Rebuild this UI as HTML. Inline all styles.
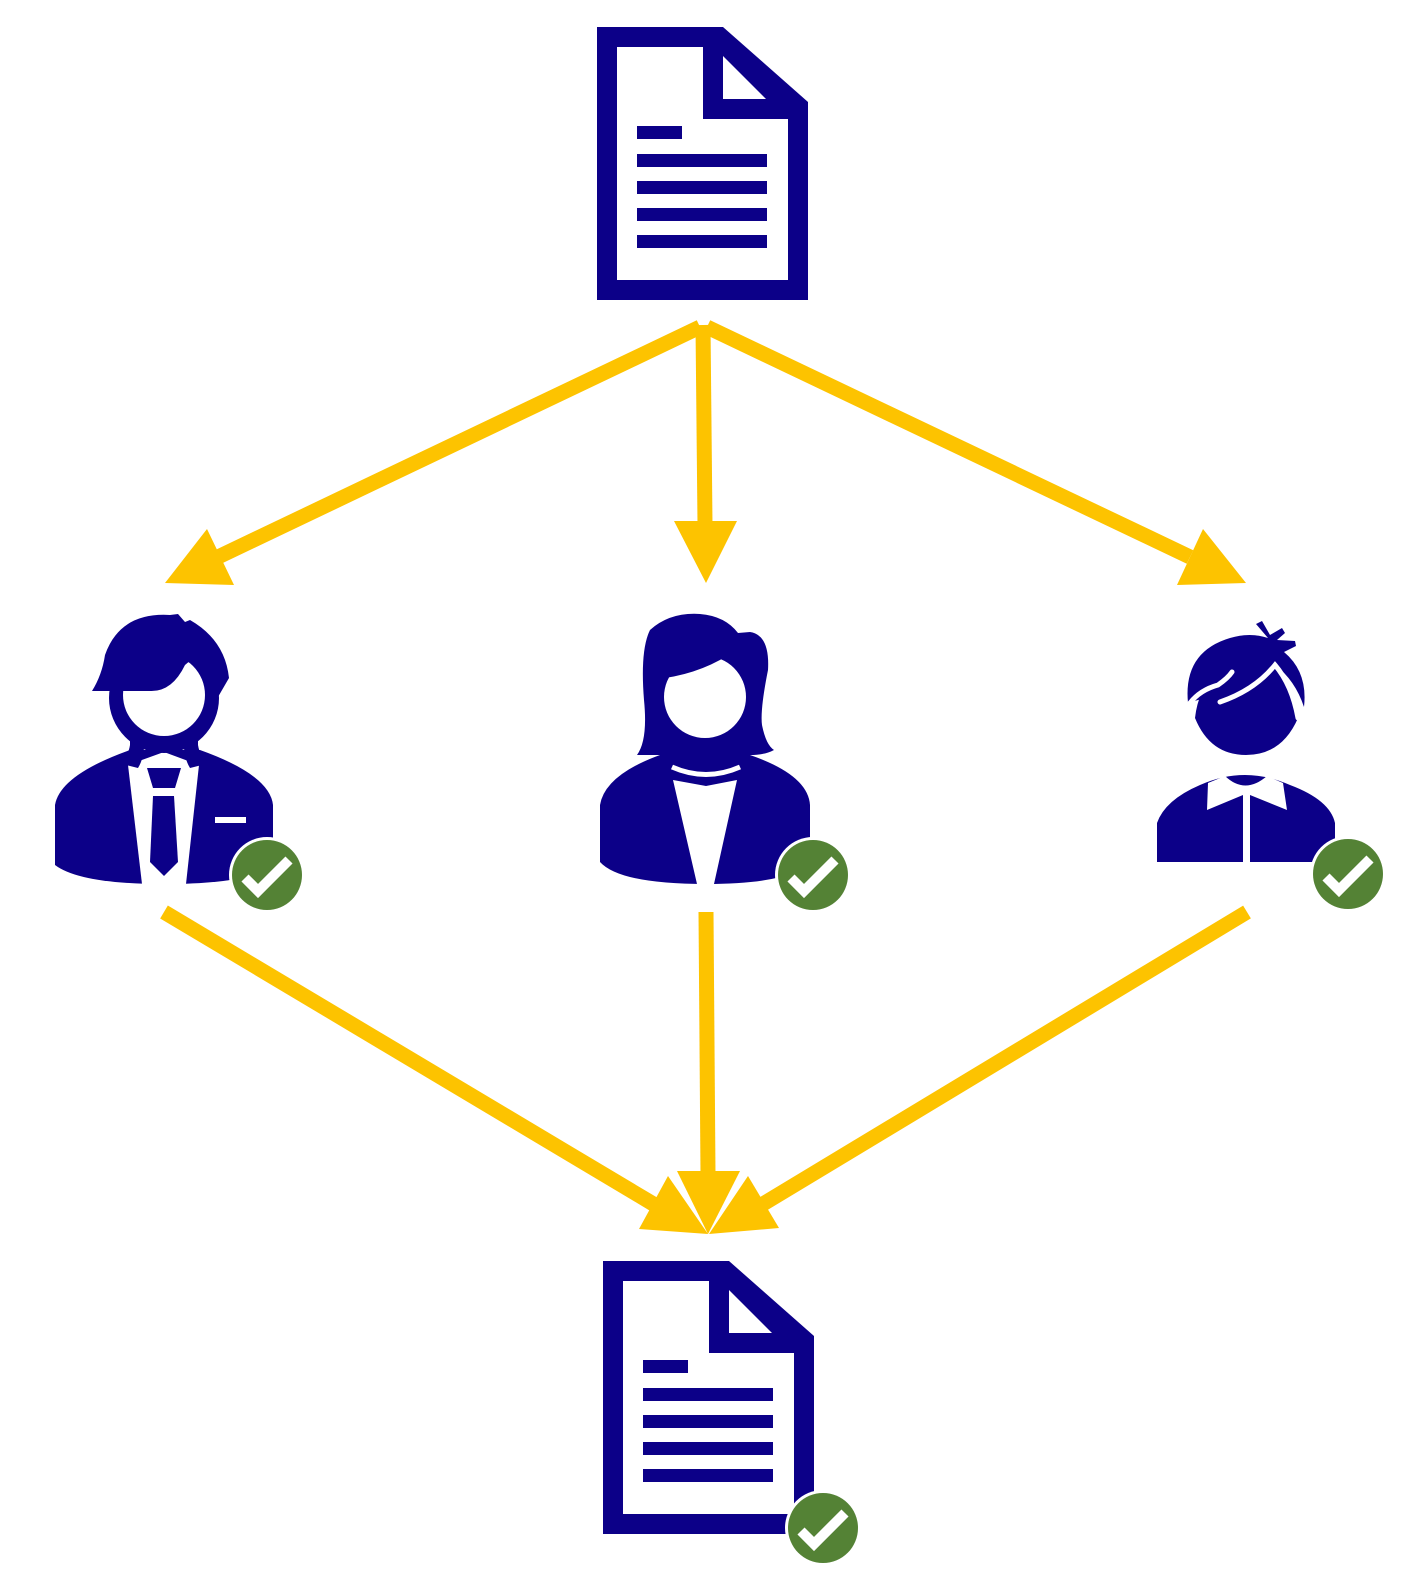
<!DOCTYPE html>
<html><head><style>html,body{margin:0;padding:0;background:#fff}svg{display:block}</style></head>
<body>
<svg width="1419" height="1578" viewBox="0 0 1419 1578" xmlns="http://www.w3.org/2000/svg">
<defs>
<g id="doc">
<polygon points="597,27 723,27 808,102 808,300 597,300" fill="#0c0088"/>
<polygon points="617,47 703,47 703,119 788,119 788,280 617,280" fill="#fff"/>
<polygon points="723,56 766,99 723,99" fill="#fff"/>
<rect x="637" y="126" width="45" height="13" fill="#0c0088"/>
<rect x="637" y="154" width="130" height="13" fill="#0c0088"/>
<rect x="637" y="181" width="130" height="13" fill="#0c0088"/>
<rect x="637" y="208" width="130" height="13" fill="#0c0088"/>
<rect x="637" y="235" width="130" height="13" fill="#0c0088"/>
</g>
<g id="chk">
<circle cx="0" cy="0" r="38" fill="#fff"/>
<circle cx="0" cy="0" r="35" fill="#548235"/>
<path d="M-22,3 L-9,16 L22,-15" stroke="#fff" stroke-width="10" fill="none"/>
</g>
</defs>

<use href="#doc"/>
<use href="#doc" transform="translate(6,1234)"/>

<g stroke="#fdc300" stroke-width="15" fill="none">
<line x1="700" y1="327" x2="218" y2="557"/>
<line x1="703" y1="325" x2="705" y2="525"/>
<line x1="707" y1="327" x2="1190" y2="557"/>
<line x1="164" y1="912" x2="655" y2="1205"/>
<line x1="706" y1="912" x2="708" y2="1175"/>
<line x1="1247" y1="912" x2="763" y2="1204"/>
</g>
<g fill="#fdc300">
<polygon points="165,583 207,529 234,585"/>
<polygon points="706,583 674,521 737,521"/>
<polygon points="1246,583 1177,585 1203,529"/>
<polygon points="708,1234 639,1229 668,1176"/>
<polygon points="708,1234 677,1171 740,1171"/>
<polygon points="709,1234 748,1176 779,1228"/>
</g>

<!-- Man -->
<g>
<path d="M55,865 L55,805 Q60,775 130,750 L200,750 Q270,775 273,805 L273,865 Q250,884 164,884 Q80,884 55,865 Z" fill="#0c0088"/>
<polygon points="128,765 142,884 186,884 199,765 164,752" fill="#fff"/>
<polygon points="147,768 181,768 175,788 153,788" fill="#0c0088"/>
<polygon points="153,796 174,796 178,862 164,876 150,862" fill="#0c0088"/>
<path d="M130,735 L198,735 L198,745 Q200,758 210,763 L190,768 Q185,760 184,748 Q164,756 144,748 Q143,760 138,768 L118,763 Q128,758 130,745 Z" fill="#0c0088"/>
<circle cx="164" cy="698" r="55" fill="#0c0088"/>
<circle cx="164" cy="695" r="41" fill="#fff"/>
<path d="M92,691 Q102,675 105,655 Q120,612 170,615 L178,614 L185,622 L190,620 Q225,640 229,678 L218,697 L205,697 L205,663 Q195,655 185,665 Q172,692 150,691 Z" fill="#0c0088"/>
<rect x="215" y="817" width="31" height="6" fill="#fff"/>
</g>

<!-- Woman -->
<g>
<path d="M600,862 L600,805 Q605,775 660,755 L750,755 Q808,775 810,805 L810,862 Q790,884 706,884 Q620,884 600,862 Z" fill="#0c0088"/>
<path d="M637,755 Q648,740 644,700 Q640,650 650,630 Q670,612 700,614 Q725,616 738,633 L750,632 Q770,635 768,670 Q760,710 762,725 Q766,745 774,750 Q765,755 750,755 Z" fill="#0c0088"/>
<path d="M684,735 L728,735 L728,752 Q730,760 740,765 L745,770 Q706,790 668,770 L672,765 Q684,760 684,752 Z" fill="#0c0088"/>
<polygon points="673,780 697,884 714,884 737,780 706,786" fill="#fff"/>
<path d="M672,767 Q706,782 740,767" stroke="#fff" stroke-width="5" fill="none"/>
<circle cx="705" cy="697" r="41" fill="#fff"/>
<path d="M655,660 Q690,615 735,645 L740,640 Q738,670 746,680 L736,650 Q705,672 665,678 Z" fill="#0c0088"/>
</g>

<!-- Boy -->
<g>
<path d="M1157,862 L1157,823 Q1165,800 1200,785 Q1245,765 1290,785 Q1330,800 1335,823 L1335,862 Z" fill="#0c0088"/>
<path d="M1208,783 L1225,776 Q1245,795 1267,776 L1283,783 L1287,810 L1250,795 L1250,862 L1243,862 L1243,795 L1207,810 Z" fill="#fff"/>
<path d="M1195,718 Q1198,690 1218,666 L1277,666 Q1298,690 1298,718 Q1282,755 1246,755 Q1210,755 1195,718 Z" fill="#0c0088"/>
<path d="M1188,703 Q1183,652 1230,638 Q1250,632 1268,638 L1256,624 L1262,621 L1270,635 L1282,628 L1285,633 L1277,640 L1295,641 L1296,646 L1284,652 Q1308,672 1304,707 Q1295,680 1275,665 Q1255,690 1220,702 Q1228,690 1232,678 Q1215,698 1198,700 Z" fill="#0c0088"/>
<path d="M1190,703 Q1200,690 1218,685 Q1228,678 1232,672 M1220,702 Q1255,690 1275,665 Q1292,685 1298,718" stroke="#fff" stroke-width="5" fill="none" stroke-linecap="round"/>
</g>

<use href="#chk" transform="translate(267,875)"/>
<use href="#chk" transform="translate(813,875)"/>
<use href="#chk" transform="translate(1348,874)"/>
<use href="#chk" transform="translate(823,1528)"/>
</svg>
</body></html>
